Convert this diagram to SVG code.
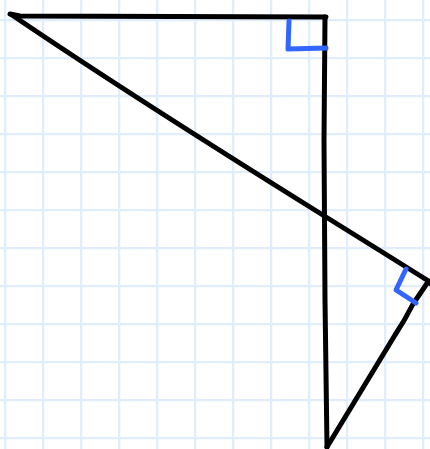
<svg xmlns="http://www.w3.org/2000/svg" width="430" height="449" viewBox="0 0 430 449">
<defs>
<pattern id="grid" x="4" y="19" width="38" height="38" patternUnits="userSpaceOnUse">
<path d="M1 0V38M0 1H38" stroke="#e0edfc" stroke-width="2.5" fill="none"/>
</pattern>
<style>.ink{fill:none;stroke:#000;stroke-width:5;stroke-linecap:round;stroke-linejoin:round}.mark{fill:none;stroke:#3366ff;stroke-width:5;stroke-linecap:round;stroke-linejoin:round}</style>
</defs>
<rect width="430" height="449" fill="#fff"/>
<rect x="-10" y="-10" width="450" height="470" fill="url(#grid)"/>
<g id="shape">
<path class="ink" d="M10 14L20 16L326 17"/>
<path class="ink" d="M12 15Q130 95 326 217T428 282"/>
<path class="ink" d="M325 17L324 140L325 300L327 447"/>
<path class="ink" d="M428 282L413 304Q405 320 395 335L327 447"/>
<path class="mark" d="M289 21L288 49L326 48"/>
<path class="mark" d="M406 269L396 290L416 303"/>
</g>
</svg>
